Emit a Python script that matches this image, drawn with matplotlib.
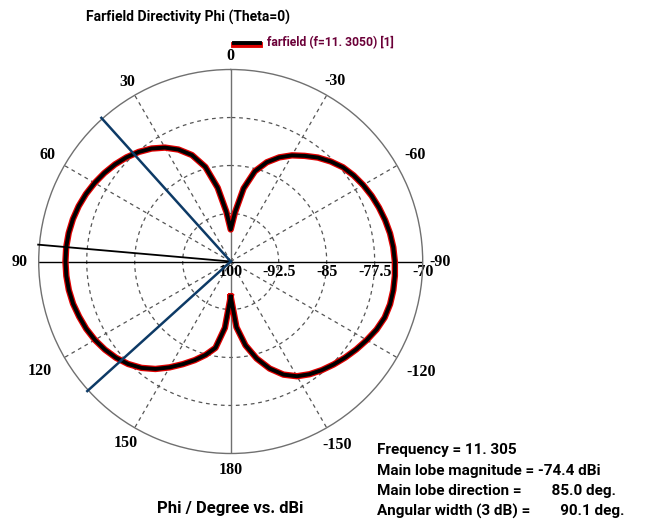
import numpy as np
import matplotlib
matplotlib.use("Agg")
import matplotlib.pyplot as plt
from matplotlib.lines import Line2D
from matplotlib.transforms import ScaledTranslation

# farfield directivity (dBi) vs phi (deg), theta = 0
phi_deg = list(range(-180, 181, 5))
directivity = [
    # -180 .. -5
    -94.5, -89.7, -86.7, -84.3, -82.2, -80.5, -79.3, -78.5, -77.85, -77.25,
    -76.65, -76.05, -75.45, -74.85, -74.4, -74.22, -74.2, -74.25, -74.35,
    -74.5, -74.72, -75.02, -75.35, -75.7, -76.1, -76.55, -77.1, -77.9,
    -78.8, -79.85, -80.85, -82.05, -83.5, -85.4, -88.4, -92.3,
    # 0
    -95.0,
    # 5 .. 180
    -92.2, -88.3, -84.7, -82.3, -80.7, -79.45, -78.45, -77.65, -76.98,
    -76.4, -75.9, -75.45, -75.05, -74.72, -74.47, -74.3, -74.2, -74.18,
    -74.22, -74.32, -74.5, -74.8, -75.1, -75.5, -76.0, -76.6, -77.35,
    -78.3, -79.5, -80.9, -82.3, -83.6, -84.9, -86.3, -89.6, -94.5,
]

main_lobe_dir = 85.0
beam_edges = [42.0, 132.1]

ring_values = [-92.5, -85, -77.5, -70]
ring_labels = ["-92.5", "-85", "-77.5", "-70"]
angle_ticks = [0, 30, 60, 90, 120, 150, 180, 210, 240, 270, 300, 330]
angle_labels = ["0", "30", "60", "90", "120", "150", "180",
                "-150", "-120", "-90", "-60", "-30"]
# label distance from centre in pixels
label_dist = [206, 207, 212, 211, 220, 210, 209, 212, 220, 209, 213, 208]

info_lines = [
    "Frequency = 11. 305",
    "Main lobe magnitude = -74.4 dBi",
    "Main lobe direction =        85.0 deg.",
    "Angular width (3 dB) =        90.1 deg.",
]

r_min, r_max = -100, -70
W, H = 645, 524

fig = plt.figure(figsize=(W / 100, H / 100), dpi=100)
cx, cy, R = 230.7, 261.5, 192
ax = fig.add_axes([(cx - R) / W, (H - cy - R) / H, 2 * R / W, 2 * R / H],
                  projection="polar")
ax.set_theta_zero_location("N")
ax.set_theta_direction(1)
ax.set_ylim(r_min, r_max)
ax.grid(False)
ax.set_xticks([])
ax.set_yticks([])
ax.spines["polar"].set_color("#707070")
ax.spines["polar"].set_linewidth(1.0)

# grid
full = np.linspace(0, 2 * np.pi, 400)
for r in ring_values[:-1]:
    ax.plot(full, np.full_like(full, r), color="#555555", lw=0.9,
            ls=(0, (3, 3)), zorder=1)
for a in angle_ticks:
    t = np.deg2rad(a)
    if a in (0, 180):
        ax.plot([t, t], [r_min, r_max], color="#707070", lw=1.0, zorder=1)
    elif a in (90, 270):
        ax.plot([t, t], [r_min, r_max], color="black", lw=1.0, zorder=1)
    else:
        ax.plot([t, t], [r_min, r_max], color="#555555", lw=0.9,
                ls=(0, (3, 3)), zorder=1)

# pattern
theta = np.deg2rad(phi_deg)
ax.plot(theta, directivity, color="#e00000", lw=4.6, zorder=3,
        solid_joinstyle="round")
ax.plot(theta, directivity, color="black", lw=2.8, zorder=4,
        solid_joinstyle="round")

# main lobe and 3 dB lines
tm = np.deg2rad(main_lobe_dir)
ax.plot([tm, tm], [r_min, -69.8], color="black", lw=1.3, zorder=5,
        clip_on=False)
for e in beam_edges:
    te = np.deg2rad(e)
    ax.plot([te, te], [r_min, -69.8], color="#0d3a66", lw=1.8, zorder=5,
            clip_on=False)

# labels
lab_font = dict(family="Liberation Serif", weight="bold", size=11.5)
px_to_db = (r_max - r_min) / R
for a, lab, d in zip(angle_ticks, angle_labels, label_dist):
    ax.text(np.deg2rad(a), r_min + d * px_to_db, lab, ha="center",
            va="center", clip_on=False, **lab_font)

off = ax.transData + ScaledTranslation(0, -1.5 / 72, fig.dpi_scale_trans)
t90 = np.deg2rad(270)
ax.text(t90, r_min, "100", ha="center", va="top", transform=off,
        clip_on=False, zorder=2, **lab_font)
for r, lab in zip(ring_values, ring_labels):
    ax.text(t90, r, lab, ha="center", va="top", transform=off,
            clip_on=False, zorder=2, **lab_font)

txt_font = dict(family="Roboto", weight="bold")
fig.text(86 / W, 1 - 17 / H, "Farfield Directivity Phi (Theta=0)",
         ha="left", va="center", size=10, **txt_font)
fig.add_artist(Line2D([234 / W, 260 / W], [1 - 44.5 / H, 1 - 44.5 / H],
                      color="#e00000", lw=4.2))
fig.add_artist(Line2D([234 / W, 260 / W], [1 - 43 / H, 1 - 43 / H],
                      color="black", lw=2.8))
fig.text(267 / W, 1 - 43 / H, "farfield (f=11. 3050) [1]", ha="left",
         va="center", size=8.75, color="#6b0038", **txt_font)
fig.text(230 / W, 1 - 508 / H, "Phi / Degree vs. dBi", ha="center",
         va="center", size=12, **txt_font)
for i, line in enumerate(info_lines):
    fig.text(377 / W, 1 - (450 + 20.6 * i) / H, line, ha="left",
             va="center", size=11, **txt_font)

fig.savefig("out.png", dpi=100, facecolor="white")
